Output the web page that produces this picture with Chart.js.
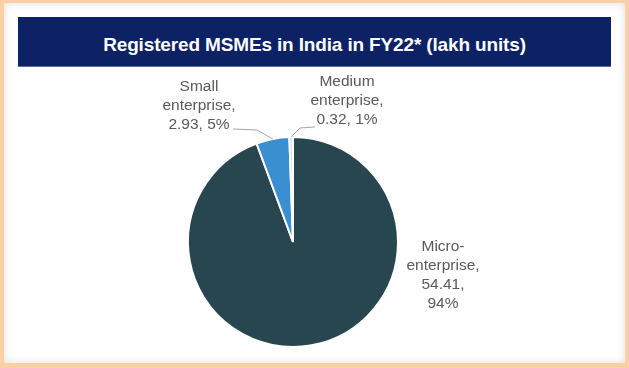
<!DOCTYPE html>
<html>
<head>
<meta charset="utf-8">
<script src="https://cdn.jsdelivr.net/npm/chart.js@4/dist/chart.umd.min.js"></script>
<style>
    html, body { margin: 0; padding: 0; }
    body {
        width: 629px;
        height: 368px;
        background: #fdcfa5;
        position: relative;
        overflow: hidden;
        font-family: "Liberation Sans", Arial, sans-serif;
    }
    .card {
        position: absolute;
        left: 4px;
        top: 3px;
        width: 621px;
        height: 360px;
        background: #fff;
        box-shadow: inset 0 0 9px rgba(0, 0, 0, 0.13);
    }
    .title {
        position: absolute;
        left: 18px;
        top: 17px;
        width: 593px;
        height: 49px;
        background: #0c2264;
        border-bottom: 1px solid #5d6c93;
        color: #fff;
        font-weight: bold;
        font-size: 19px;
        letter-spacing: -0.15px;
        text-align: center;
        line-height: 56px;
    }
    #msme-chart { position: absolute; left: 0; top: 0; }
</style>
</head>
<body>
<div class="card"></div>
<div class="title">Registered MSMEs in India in FY22* (lakh units)</div>
<canvas id="msme-chart" width="629" height="368"></canvas>
<script>
// data (lakh units)
var categories = [
    ['Micro-', 'enterprise,'],
    ['Small', 'enterprise,'],
    ['Medium', 'enterprise,']
];
var units = [54.41, 2.93, 0.32];
var colors = ['#28464f', '#3a8fd1', '#d6e4f0'];

var chart = {};

// where each data label sits (centre x, first line y) and its leader line
var labelLayout = [
    { x: 443, y: 247, splitValue: true },
    { x: 199, y: 87, leader: [233, 129, 257, 130] },
    { x: 347, y: 82, leader: [315, 127, 300, 128] }
];

chart.labels = {
    id: 'sliceLabels',
    afterDatasetsDraw: function (c) {
        const ctx = c.ctx;
        const meta = c.getDatasetMeta(0);
        const total = units.reduce(function (a, b) { return a + b; }, 0);

        ctx.save();
        ctx.font = '15.5px "Liberation Sans", Arial, sans-serif';
        ctx.fillStyle = '#595959';
        ctx.textAlign = 'center';
        ctx.textBaseline = 'middle';

        meta.data.forEach(function (arc, i) {
            const pos = labelLayout[i];
            const pct = Math.round(units[i] / total * 100) + '%';
            let lines = categories[i].slice();
            if (pos.splitValue) {
                lines.push(units[i] + ',', pct);
            } else {
                lines.push(units[i] + ', ' + pct);
            }
            lines.forEach(function (t, k) {
                ctx.fillText(t, pos.x, pos.y + k * 18.8);
            });

            if (pos.leader) {
                const mid = (arc.startAngle + arc.endAngle) / 2;
                const ex = arc.x + Math.cos(mid) * arc.outerRadius;
                const ey = arc.y + Math.sin(mid) * arc.outerRadius;
                ctx.beginPath();
                ctx.strokeStyle = '#a6a6a6';
                ctx.lineWidth = 1;
                ctx.moveTo(pos.leader[0], pos.leader[1]);
                ctx.lineTo(pos.leader[2], pos.leader[3]);
                ctx.lineTo(ex, ey);
                ctx.stroke();
            }
        });
        ctx.restore();
    }
};

chart.init = function () {
    const ctx = document.getElementById('msme-chart');

    const config = {
        type: 'pie',
        data: {
            labels: categories.map(function (c) { return c.join(' '); }),
            datasets: [
                {
                    data: units,
                    backgroundColor: colors,
                    borderColor: '#ffffff',
                    borderWidth: 2
                }
            ]
        },
        options: {
            responsive: false,
            animation: false,
            radius: 105,
            layout: {
                padding: { left: 188, right: 231, top: 137, bottom: 21 }
            },
            plugins: {
                legend: { display: false },
                tooltip: { enabled: false },
                title: { display: false }
            }
        },
        plugins: [chart.labels]
    };

    chart.pie = new Chart(ctx, config);
};

chart.init();
</script>
</body>
</html>
